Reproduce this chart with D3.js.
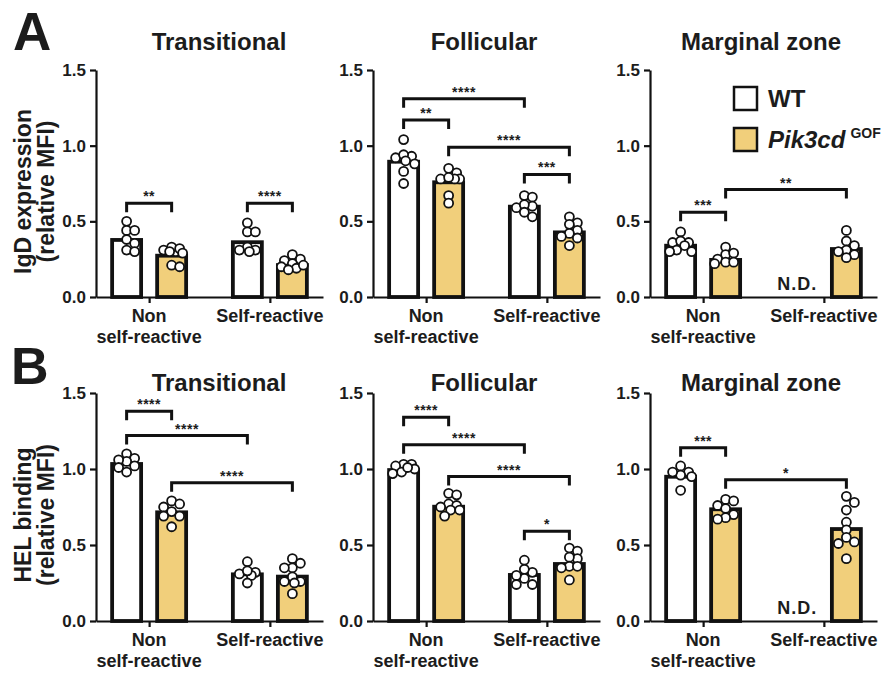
<!DOCTYPE html>
<html>
<head>
<meta charset="utf-8">
<script src="https://cdn.jsdelivr.net/npm/d3@7"></script>
<style>
  html, body { margin: 0; padding: 0; background: #ffffff; }
  svg { display: block; }
  text { font-family: "Liberation Sans", Arial, Helvetica, sans-serif; font-weight: bold; fill: #1c1c1c; }
</style>
</head>
<body>
<script>
// ---------------- DATA ----------------
const categories = ["Non self-reactive", "Self-reactive"];
const categoryLines = [["Non", "self-reactive"], ["Self-reactive"]];
const genotypes = ["WT", "Pik3cd GOF"];
const panelTitles = ["Transitional", "Follicular", "Marginal zone"];
const rowLetters = ["A", "B"];
const rowYLabels = [["IgD expression", "(relative MFI)"], ["HEL binding", "(relative MFI)"]];
const yTicks = [0, 0.5, 1.0, 1.5];

// bar order: [Non-WT, Non-GOF, Self-WT, Self-GOF]; null = N.D.
const igdTransitionalBars = [0.377, 0.273, 0.362, 0.211];
const igdTransitionalPoints = [
  [0.50, 0.44, 0.44, 0.38, 0.355, 0.31, 0.30],
  [0.30, 0.31, 0.33, 0.32, 0.30, 0.21, 0.20, 0.29],
  [0.49, 0.43, 0.43, 0.33, 0.31, 0.31, 0.30],
  [0.28, 0.25, 0.24, 0.22, 0.20, 0.19, 0.18, 0.21]
];
const igdTransitionalSig = [[0, 1, 0.62, "**"], [2, 3, 0.62, "****"]];

const igdFollicularBars = [0.894, 0.758, 0.597, 0.427];
const igdFollicularPoints = [
  [1.04, 0.92, 0.93, 0.94, 0.90, 0.88, 0.83, 0.75],
  [0.85, 0.82, 0.78, 0.78, 0.78, 0.79, 0.67, 0.62],
  [0.67, 0.66, 0.60, 0.59, 0.61, 0.56, 0.53],
  [0.53, 0.49, 0.48, 0.44, 0.42, 0.39, 0.34, 0.40]
];
const igdFollicularSig = [[0, 2, 1.31, "****"], [0, 1, 1.17, "**"], [1, 3, 0.99, "****"], [2, 3, 0.81, "***"]];

const igdMarginalBars = [0.339, 0.245, null, 0.317];
const igdMarginalPoints = [
  [0.43, 0.36, 0.36, 0.37, 0.34, 0.31, 0.30, 0.30],
  [0.33, 0.28, 0.29, 0.25, 0.23, 0.22, 0.23],
  [],
  [0.44, 0.37, 0.34, 0.31, 0.30, 0.28, 0.26]
];
const igdMarginalSig = [[0, 1, 0.56, "***"], [1, 3, 0.71, "**"]];

const helTransitionalBars = [1.033, 0.715, 0.307, 0.292];
const helTransitionalPoints = [
  [1.10, 1.07, 1.05, 1.06, 1.02, 1.01, 0.98],
  [0.79, 0.77, 0.75, 0.72, 0.69, 0.69, 0.62],
  [0.39, 0.32, 0.31, 0.30, 0.33, 0.25],
  [0.41, 0.35, 0.35, 0.38, 0.29, 0.26, 0.26, 0.25, 0.18]
];
const helTransitionalSig = [[0, 1, 1.38, "****"], [0, 2, 1.22, "****"], [1, 3, 0.91, "****"]];

const helFollicularBars = [0.993, 0.752, 0.303, 0.375];
const helFollicularPoints = [
  [1.03, 1.03, 1.02, 1.00, 0.98, 0.97, 1.01],
  [0.84, 0.83, 0.77, 0.76, 0.73, 0.73, 0.69, 0.75],
  [0.40, 0.32, 0.34, 0.28, 0.24, 0.24, 0.30],
  [0.48, 0.46, 0.41, 0.42, 0.36, 0.36, 0.35, 0.27]
];
const helFollicularSig = [[0, 1, 1.34, "****"], [0, 2, 1.16, "****"], [1, 3, 0.95, "****"], [2, 3, 0.59, "*"]];

const helMarginalBars = [0.949, 0.735, null, 0.605];
const helMarginalPoints = [
  [1.02, 0.98, 0.96, 0.95, 0.98, 0.86],
  [0.80, 0.79, 0.76, 0.70, 0.68, 0.67, 0.74],
  [],
  [0.82, 0.78, 0.73, 0.65, 0.60, 0.55, 0.52, 0.51, 0.41]
];
const helMarginalSig = [[0, 1, 1.14, "***"], [1, 3, 0.93, "*"]];

// ---------------- LAYOUT / STYLE ----------------
const W = 891, H = 673;
const colors = { WT: "#ffffff", GOF: "#F1CF7B" };
const ink = "#111111";
const panelX = [96, 373, 650];
const plotW = 227;
const rowY = [{ top: 70, bottom: 297 }, { top: 393, bottom: 621 }];

const rows = [
  [
    { bars: igdTransitionalBars, points: igdTransitionalPoints, sig: igdTransitionalSig },
    { bars: igdFollicularBars, points: igdFollicularPoints, sig: igdFollicularSig },
    { bars: igdMarginalBars, points: igdMarginalPoints, sig: igdMarginalSig }
  ],
  [
    { bars: helTransitionalBars, points: helTransitionalPoints, sig: helTransitionalSig },
    { bars: helFollicularBars, points: helFollicularPoints, sig: helFollicularSig },
    { bars: helMarginalBars, points: helMarginalPoints, sig: helMarginalSig }
  ]
];

const svg = d3.select("body").append("svg").attr("width", W).attr("height", H);

const x = d3.scalePoint().domain(categories).range([0, plotW]).padding(0.44);
const xSub = d3.scaleBand().domain(genotypes).range([-37, 37]).paddingInner(0.356).paddingOuter(0);
const bw = xSub.bandwidth();

function barCenter(i) {
  const cat = categories[Math.floor(i / 2)];
  const g = genotypes[i % 2];
  return x(cat) + xSub(g) + bw / 2;
}

// simple deterministic beeswarm
function swarm(values, y, r) {
  const order = values.map((v, i) => i).sort((a, b) => values[b] - values[a]);
  const placed = [];
  const res = new Array(values.length);
  const cands = [0, 4, -4, 8, -8, 11, -11, 2, -2, 6, -6, 10, -10];
  order.forEach(i => {
    const py = y(values[i]);
    let best = 0, bestD = -1;
    for (const c of cands) {
      let md = Infinity;
      for (const p of placed) md = Math.min(md, Math.hypot(p[0] - c, p[1] - py));
      if (md >= 2 * r * 0.8) { best = c; bestD = Infinity; break; }
      if (md > bestD) { bestD = md; best = c; }
    }
    placed.push([best, py]);
    res[i] = best;
  });
  return res;
}

rows.forEach((row, ri) => {
  const y = d3.scaleLinear().domain([0, 1.5]).range([rowY[ri].bottom, rowY[ri].top]);

  // row letter
  svg.append("text").attr("x", ri === 0 ? 13 : 11).attr("y", ri === 0 ? 50 : 384)
    .attr("font-size", ri === 0 ? 53 : 52).text(rowLetters[ri]);

  // y label
  const ymid = (rowY[ri].top + rowY[ri].bottom) / 2 + 8;
  const yl = svg.append("text").attr("transform", `translate(31,${ymid}) rotate(-90)`)
    .attr("text-anchor", "middle").attr("font-size", 23);
  yl.append("tspan").attr("x", 0).attr("dy", 0).text(rowYLabels[ri][0]);
  yl.append("tspan").attr("x", 0).attr("dy", 23).text(rowYLabels[ri][1]);

  row.forEach((panel, pi) => {
    const g = svg.append("g").attr("transform", `translate(${panelX[pi]},0)`);

    // title
    const titleOffsets = [123, 111, 111];
    g.append("text").attr("x", titleOffsets[pi]).attr("y", ri === 0 ? 50 : 391)
      .attr("text-anchor", "middle").attr("font-size", 24).text(panelTitles[pi]);

    // bars
    panel.bars.forEach((v, i) => {
      const cx = barCenter(i);
      if (v === null) {
        g.append("text").attr("x", cx - 4).attr("y", y(0) - 7).attr("text-anchor", "middle")
          .attr("font-size", 18).attr("letter-spacing", 1).text("N.D.");
        return;
      }
      g.append("rect").attr("x", cx - bw / 2).attr("y", y(v)).attr("width", bw)
        .attr("height", y(0) - y(v)).attr("fill", i % 2 === 0 ? colors.WT : colors.GOF)
        .attr("stroke", ink).attr("stroke-width", 3.8);
    });

    // points
    panel.points.forEach((vals, i) => {
      const cx = barCenter(i);
      const offs = swarm(vals, y, 4.6);
      vals.forEach((v, k) => {
        g.append("circle").attr("cx", cx + offs[k]).attr("cy", y(v)).attr("r", 4.5)
          .attr("fill", "#fff").attr("stroke", ink).attr("stroke-width", 1.8);
      });
    });

    // axes
    const ya = g.append("g").call(d3.axisLeft(y).tickValues(yTicks).tickFormat(d3.format(".1f")).tickSize(6).tickSizeOuter(0).tickPadding(4));
    ya.select(".domain").attr("stroke", ink).attr("stroke-width", 2.2);
    ya.selectAll(".tick line").attr("stroke", ink).attr("stroke-width", 2.2);
    ya.selectAll(".tick text").attr("font-size", 17).attr("font-family", "Liberation Sans, Arial, sans-serif").attr("font-weight", "bold").attr("fill", "#1c1c1c");

    const xa = g.append("g").attr("transform", `translate(0,${y(0)})`)
      .call(d3.axisBottom(x).tickSize(6).tickSizeOuter(0).tickFormat(""));
    xa.select(".domain").attr("stroke", ink).attr("stroke-width", 2.2);
    xa.selectAll(".tick line").attr("stroke", ink).attr("stroke-width", 2.2);

    categories.forEach((c, ci) => {
      const t = g.append("text").attr("x", x(c)).attr("y", y(0) + 25).attr("text-anchor", "middle").attr("font-size", 18);
      categoryLines[ci].forEach((ln, li) => {
        t.append("tspan").attr("x", x(c)).attr("dy", li === 0 ? 0 : 21).text(ln);
      });
    });

    // significance brackets
    panel.sig.forEach(([a, b, h, lab]) => {
      const xa1 = barCenter(a), xb1 = barCenter(b), yy = y(h);
      g.append("path").attr("d", `M${xa1},${yy + 9}V${yy}H${xb1}V${yy + 9}`)
        .attr("fill", "none").attr("stroke", ink).attr("stroke-width", 3);
      g.append("text").attr("x", (xa1 + xb1) / 2).attr("y", yy - 2).attr("text-anchor", "middle")
        .attr("font-size", 14).attr("font-weight", "normal").attr("letter-spacing", 0.5).text(lab);
    });

    // legend (top-right panel only)
    if (ri === 0 && pi === 2) {
      const lg = svg.append("g");
      genotypes.forEach((gn, gi) => {
        const ly = 87 + gi * 41;
        lg.append("rect").attr("x", 734).attr("y", ly).attr("width", 23).attr("height", 23)
          .attr("fill", gi === 0 ? colors.WT : colors.GOF).attr("stroke", ink).attr("stroke-width", 2.5);
        const t = lg.append("text").attr("x", 768).attr("y", ly + 20).attr("font-size", 24);
        if (gi === 0) t.text("WT");
        else {
          t.append("tspan").attr("font-style", "italic").text("Pik3cd");
          t.append("tspan").attr("dx", 5).attr("dy", -10).attr("font-size", 14).text("GOF");
        }
      });
    }
  });
});
</script>
</body>
</html>
